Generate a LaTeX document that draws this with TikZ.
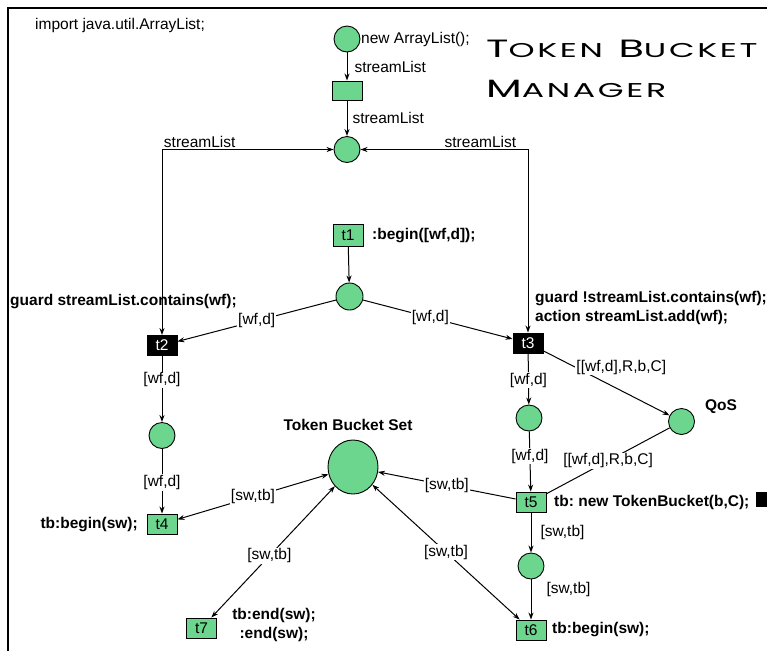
\documentclass[tikz,border=0pt]{standalone}
\usepackage{fontspec}
\usepackage{graphicx}
\setmainfont{Liberation Sans}
\newfontfamily\titlefont[LetterSpace=8]{Poppins}
\usetikzlibrary{arrows.meta,shapes.geometric}
\definecolor{placegreen}{RGB}{108,214,142}
\newcommand{\basefont}{\fontsize{15.5}{19}\selectfont}
\newcommand{\bigsc}[2]{{\fontsize{25}{25}\selectfont #1}{\fontsize{20}{20}\selectfont #2}}
\frenchspacing
\tikzset{
  place/.style={circle, draw, fill=placegreen, line width=0.9pt, minimum size=26pt, inner sep=0pt},
  trans/.style={rectangle, draw, fill=placegreen, line width=0.9pt, minimum width=30pt, minimum height=20pt, inner sep=0pt},
  blacktrans/.style={trans, fill=black, text=white},
  arclabel/.style={fill=white, inner sep=1pt},
  note/.style={font=\basefont\bfseries, inner sep=0pt},
  arc/.style={-{Stealth[length=7pt,width=5pt]}, line width=1pt},
  biarc/.style={{Stealth[length=7pt,width=5pt]}-{Stealth[length=7pt,width=5pt]}, line width=1pt},
  plain/.style={line width=1pt}
}
\begin{document}
\begin{tikzpicture}[x=1pt, y=-1pt, font=\basefont]
\useasboundingbox (0,0) rectangle (767,651);
% frame
\draw[line width=1.6pt] (767,8) -- (8,8) -- (8,651);
\node[anchor=west, inner sep=0pt] (imp) at (35,25) {import java.util.ArrayList;};
\node[anchor=base west, inner sep=0pt] (title1) at (486,57) {\titlefont\scalebox{1.66}[1]{\bigsc{T}{OKEN}\hspace{4pt} \bigsc{B}{UCKET}}};
\node[anchor=base west, inner sep=0pt] (title2) at (486,97) {\titlefont\scalebox{1.66}[1]{\bigsc{M}{ANAGER}}};

% places and transitions
\node[place] (p0) at (347,39) {};
\node[trans, minimum height=19pt] (t0) at (347,90.5) {};
\node[place] (p1) at (347,149.5) {};
\node[trans, minimum height=22pt] (t1) at (348,235) {t1};
\node[place, minimum size=27pt] (p2) at (349.5,296.5) {};
\node[blacktrans] (t2) at (162,345.5) {t2};
\node[blacktrans] (t3) at (528,343) {t3};
\node[place] (p4) at (162,435.5) {};
\node[trans] (t4) at (162,524) {t4};
\node[place] (p3) at (529,418) {};
\node[place] (qos) at (681.5,421.5) {};
\node[trans] (t5) at (531,502) {t5};
\node[place] (p5) at (531,566) {};
\node[trans] (t6) at (531,630) {t6};
\node[trans] (t7) at (201.5,628) {t7};
\node[ellipse, draw, fill=placegreen, line width=0.9pt, minimum width=50pt, minimum height=54pt, inner sep=0pt] (tbs) at (353,467) {};

% notes
\node[anchor=west, inner sep=0pt] (newal) at (361,39) {new ArrayList();};
\node[note, anchor=west] (t1note) at (372,236) {:begin([wf,d]);};
\node[note, anchor=west] (t2note) at (10,302) {guard streamList.contains(wf);};
\node[note, anchor=west, align=left] (t3note) at (535,308) {guard !streamList.contains(wf);\\action streamList.add(wf);};
\node[note, anchor=east] (t4note) at (138,525) {tb:begin(sw);};
\node[note, anchor=west] (t5note) at (554,502) {tb: new TokenBucket(b,C);};
\node[note, anchor=west] (t6note) at (552,630) {tb:begin(sw);};
\node[note, align=center] (t7note) at (274,625) {tb:end(sw);\\:end(sw);};
\node[note] (qosnote) at (721,407) {QoS};
\node[note] (tbsnote) at (348,425) {Token Bucket Set};
\fill (756,492) rectangle (767,507);

% arcs
\draw[arc] (p0) -- node[midway, right=7pt, inner sep=0pt] {streamList} (t0);
\draw[arc] (t0) -- node[midway, right=5pt, inner sep=0pt] {streamList} (p1);
\draw[biarc] (t2.north) |- node[pos=0.61, above=1pt, inner sep=0pt] {streamList} (p1.west);
\draw[biarc] (t3.north) |- node[pos=0.642, above=1pt, inner sep=0pt] {streamList} (p1.east);
\draw[arc] (t1) -- (p2);
\draw[arc] (p2) -- node[arclabel, midway] {[wf,d]} (t2);
\draw[arc] (p2) -- node[arclabel, pos=0.45] {[wf,d]} (t3);
\draw[arc] (t2) -- node[arclabel, pos=0.36] {[wf,d]} (p4);
\draw[arc] (p4) -- node[arclabel, pos=0.52] {[wf,d]} (t4);
\draw[arc] (t3) -- node[arclabel, pos=0.52] {[wf,d]} (p3);
\draw[arc] (p3) -- node[arclabel, pos=0.41] {[wf,d]} (t5);
\draw[arc] (t3) -- node[arclabel, pos=0.25, anchor=west] {[[wf,d],R,b,C]} (qos);
\draw[plain] (qos) -- node[arclabel, midway] {[[wf,d],R,b,C]} (t5);
\draw[arc] (t5) -- node[arclabel, midway] {[sw,tb]} (tbs);
\draw[biarc] (tbs) -- node[arclabel, midway] {[sw,tb]} (t4);
\draw[biarc] (tbs) -- node[arclabel, pos=0.53] {[sw,tb]} (t7);
\draw[biarc] (tbs) -- node[arclabel, midway] {[sw,tb]} (t6);
\draw[arc] (t5) -- node[midway, right=9pt, inner sep=0pt] {[sw,tb]} (p5);
\draw[arc] (p5) -- node[pos=0.25, right=15pt, inner sep=0pt] {[sw,tb]} (t6);
\end{tikzpicture}
\end{document}
